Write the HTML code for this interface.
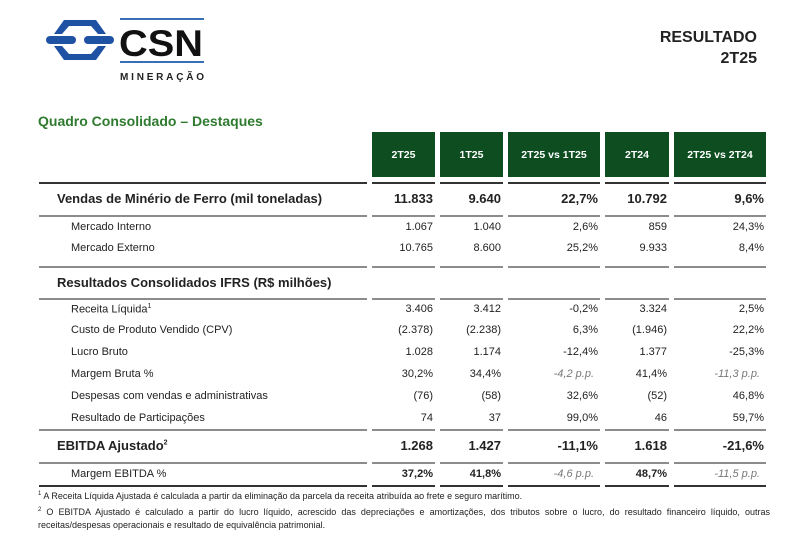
<!DOCTYPE html>
<html><head><meta charset="utf-8">
<style>
body{margin:0;width:800px;height:541px;background:#fff;position:relative;overflow:hidden;font-family:"Liberation Sans",Arial,sans-serif;color:#222}
.a{position:absolute;white-space:nowrap}
.hd{position:absolute;background:#0d4d1f;color:#fff;font-weight:bold;font-size:10.5px;display:flex;align-items:center;justify-content:center;top:132px;height:45px}
.ln{position:absolute;height:2px;background:#8c8c8c}
.c{position:absolute;white-space:nowrap;text-align:right}
</style></head>
<body>
<svg class="a" style="left:44px;top:16px" width="170" height="70">
  <polygon points="20,4 52,4 62,18 54,18 47,10 25,10 18,18 10,18" fill="#1f52a3"/>
  <polygon points="10,30 18,30 25,38 47,38 54,30 62,30 52,44 20,44" fill="#1f52a3"/>
  <rect x="2" y="20" width="30" height="8" rx="4" fill="#1f52a3"/>
  <rect x="40" y="20" width="30" height="8" rx="4" fill="#1f52a3"/>
  <rect x="76" y="2" width="84" height="2" fill="#3a6fb8"/>
  <rect x="76" y="45" width="84" height="2" fill="#3a6fb8"/>
  <text x="75" y="40" font-family="Liberation Sans" font-weight="bold" font-size="37" fill="#111" textLength="84" lengthAdjust="spacingAndGlyphs">CSN</text>
  <text x="76" y="64" font-family="Liberation Sans" font-weight="bold" font-size="10" fill="#222" textLength="84" lengthAdjust="spacing">MINERAÇÃO</text>
</svg>
<div class="a" style="right:43px;top:27px;font-weight:bold;font-size:16px;text-align:right;line-height:21px">RESULTADO<br>2T25</div>
<div class="a" style="left:38px;top:113px;font-weight:bold;font-size:14px;color:#2e7a2e">Quadro Consolidado – Destaques</div>
<div id="tbl"></div>
<div class="a" style="left:38px;top:488px;font-size:9px;line-height:13.5px;color:#222;width:732px;white-space:normal">
<div><sup style="font-size:6px">1</sup> A Receita Líquida Ajustada é calculada a partir da eliminação da parcela da receita atribuída ao frete e seguro marítimo.</div>
<div style="text-align:justify"><sup style="font-size:6px">2</sup> O EBITDA Ajustado é calculado a partir do lucro líquido, acrescido das depreciações e amortizações, dos tributos sobre o lucro, do resultado financeiro líquido, outras receitas/despesas operacionais e resultado de equivalência patrimonial.</div>
</div>
<script>
const headers=["2T25","1T25","2T25 vs 1T25","2T24","2T25 vs 2T24"];
const colL=[372,440,508,605,674];
const colR=[435,503,600,669,766];
const rows=[
["Vendas de Minério de Ferro (mil toneladas)",["11.833","9.640","22,7%","10.792","9,6%"],"big",199],
["Mercado Interno",["1.067","1.040","2,6%","859","24,3%"],"n",228],
["Mercado Externo",["10.765","8.600","25,2%","9.933","8,4%"],"n",249],
["Resultados Consolidados IFRS (R$ milhões)",["","","","",""],"sec",283],
["Receita Líquida¹",["3.406","3.412","-0,2%","3.324","2,5%"],"n",310],
["Custo de Produto Vendido (CPV)",["(2.378)","(2.238)","6,3%","(1.946)","22,2%"],"n",331],
["Lucro Bruto",["1.028","1.174","-12,4%","1.377","-25,3%"],"n",353],
["Margem Bruta %",["30,2%","34,4%","-4,2 p.p.","41,4%","-11,3 p.p."],"pp",375],
["Despesas com vendas e administrativas",["(76)","(58)","32,6%","(52)","46,8%"],"n",397],
["Resultado de Participações",["74","37","99,0%","46","59,7%"],"n",419],
["EBITDA Ajustado²",["1.268","1.427","-11,1%","1.618","-21,6%"],"big",446],
["Margem EBITDA %",["37,2%","41,8%","-4,6 p.p.","48,7%","-11,5 p.p."],"mpp",475]
];
const lines=[[183,"#333"],[216,"#8c8c8c"],[267,"#8c8c8c"],[299,"#8c8c8c"],[430,"#8c8c8c"],[463,"#8c8c8c"],[486,"#333"]];
const T=document.getElementById('tbl');
headers.forEach((h,i)=>{const d=document.createElement('div');d.className='hd';d.style.left=colL[i]+'px';d.style.width=(colR[i]-colL[i])+'px';d.textContent=h;


T.appendChild(d);});
lines.forEach(([y,c])=>{const segs=[[39,367]].concat(colL.map((l,i)=>[l,colR[i]]));segs.forEach(([a,b])=>{const d=document.createElement('div');d.className='ln';d.style.left=a+'px';d.style.width=(b-a)+'px';d.style.top=(y-1)+'px';d.style.background=c;


T.appendChild(d);});});
rows.forEach(([lab,vals,k,y])=>{const big=k=="big"||k=="sec";const fs=big?13:11;
const l=document.createElement('div');l.className='a';l.style.left=(big?57:71)+'px';l.style.top=(y-fs*0.62)+'px';l.style.fontSize=fs+'px';if(big)l.style.fontWeight='bold';
l.innerHTML=lab.replace(/([¹²])/,s=>'<sup style="font-size:7px">'+(s=='¹'?'1':'2')+'</sup>');


T.appendChild(l);
vals.forEach((v,i)=>{if(!v)return;const d=document.createElement('div');d.className='c';const pp=v.indexOf('p.p.')>=0;
d.style.right=(800-colR[i]+(pp?6:2))+'px';d.style.top=(y-fs*0.62)+'px';d.style.fontSize=fs+'px';
if(big||(k=="mpp"&&!pp))d.style.fontWeight='bold';if(pp){d.style.fontStyle='italic';d.style.color='#777';}
d.textContent=v;


T.appendChild(d);});});
</script>
</body></html>
